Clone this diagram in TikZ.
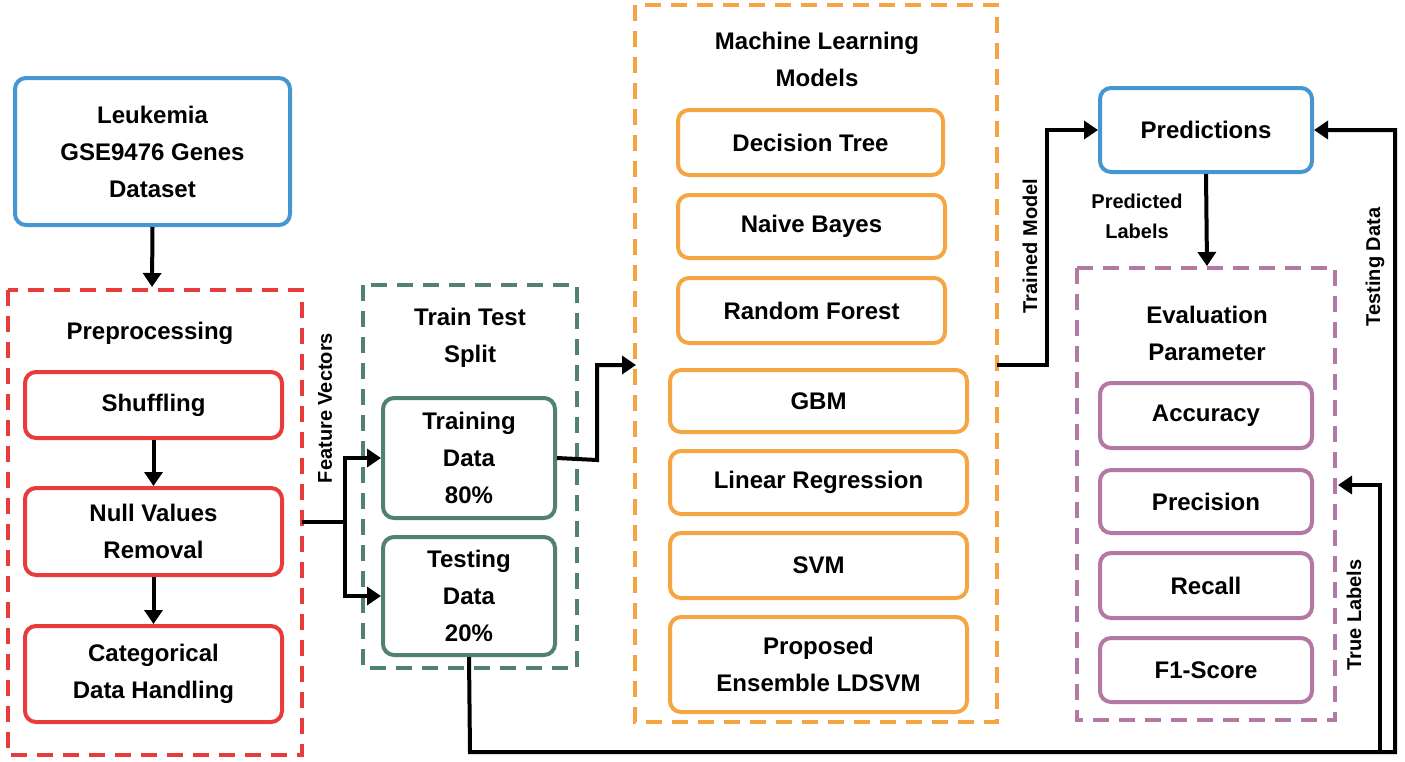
\documentclass[tikz,border=0pt]{standalone}
\usepackage{fontspec}
\setmainfont{Liberation Sans}
\usetikzlibrary{arrows.meta}
\definecolor{cblue}{RGB}{70,150,210}
\definecolor{cred}{RGB}{232,60,60}
\definecolor{cgreen}{RGB}{80,130,110}
\definecolor{corange}{RGB}{245,165,65}
\definecolor{cpurple}{RGB}{180,120,165}
\tikzset{
 box/.style={draw=#1,line width=4pt,rounded corners=11pt,fill=white,align=center,font=\fontsize{24}{37}\selectfont\bfseries,inner sep=0pt},
 grp/.style={draw=#1,line width=4pt,dash pattern=on 16pt off 10pt},
 ttl/.style={font=\fontsize{24}{37}\selectfont\bfseries,align=center},
 lbl/.style={font=\fontsize{20}{30}\selectfont\bfseries,align=center},
 arr/.style={line width=4pt,-{Triangle[length=14pt,width=18pt]}},
 ln/.style={line width=4pt}
}
\newcommand{\bx}[6]{\node[box=#1,minimum width={#4-#2},minimum height={#5-#3}] (#6) at ({(#2+#4)/2},{(#3+#5)/2})}
\begin{document}
\begin{tikzpicture}[x=1pt,y=-1pt]
\useasboundingbox (0,0) rectangle (1405,761);
% groups
\draw[grp=cred] (8,290) rectangle (302,755);
\draw[grp=cgreen] (363,285) rectangle (577,668);
\draw[grp=corange] (635,5) rectangle (997,722);
\draw[grp=cpurple] (1077,268) rectangle (1335,720);
\node[ttl] (tpre) at (150,333) {Preprocessing};
\node[ttl] (tsplit) at (470,338) {Train Test\\Split};
\node[ttl] (tml) at (817,59) {Machine Learning\\Models};
\node[ttl] (teval) at (1207,333) {Evaluation\\Parameter};
% nodes
\bx{cblue}{15}{78}{290}{225}{leuk} {Leukemia\\GSE9476 Genes\\Dataset};
\bx{cred}{25}{372}{282}{438}{shuf} {Shuffling};
\bx{cred}{25}{488}{282}{575}{null} {Null Values\\Removal};
\bx{cred}{25}{626}{282}{722}{cat} {Categorical\\Data Handling};
\bx{cgreen}{383}{398}{555}{518}{train} {Training\\Data\\80\%};
\bx{cgreen}{383}{537}{555}{655}{test} {Testing\\Data\\20\%};
\bx{corange}{678}{110}{943}{175}{dt} {Decision Tree};
\bx{corange}{678}{195}{945}{258}{nb} {Naive Bayes};
\bx{corange}{678}{278}{945}{343}{rf} {Random Forest};
\bx{corange}{670}{370}{967}{432}{gbm} {GBM};
\bx{corange}{670}{451}{967}{514}{lr} {Linear Regression};
\bx{corange}{670}{533}{967}{598}{svm} {SVM};
\bx{corange}{670}{617}{967}{712}{prop} {Proposed\\Ensemble LDSVM};
\bx{cblue}{1100}{88}{1312}{172}{pred} {Predictions};
\bx{cpurple}{1100}{383}{1312}{448}{acc} {Accuracy};
\bx{cpurple}{1100}{470}{1312}{533}{prec} {Precision};
\bx{cpurple}{1100}{553}{1312}{618}{rec} {Recall};
\bx{cpurple}{1100}{638}{1312}{702}{f1} {F1-Score};
% coordinates
\coordinate (preR) at (302,522);
\coordinate (fv) at (345,522);
\coordinate (mlL) at (636,365);
\coordinate (mlR) at (997,365);
\coordinate (evR) at (1338,485);
% arrows
\draw[arr] (leuk.south) -- (152,287);
\draw[arr] (shuf) -- (null);
\draw[arr] (null) -- (cat);
\draw[ln] (preR) -- (fv);
\draw[arr] (fv) |- (train.west);
\draw[arr] (fv) |- (test.west);
\draw[arr] (train.east) -- (597,460) |- (mlL);
\draw[arr] (mlR) -- (1047,365) |- (pred.west);
\draw[arr] (pred.south) -- (1207,266);
\draw[arr] (test.south) -- (470,752) -- (1395,752) |- (pred.east);
\draw[arr] (1380,752) |- (evR);
% labels
\node[lbl,rotate=90] (lfv) at (325,408) {Feature Vectors};
\node[lbl,rotate=90] (ltm) at (1030,246) {Trained Model};
\node[lbl] (lpl) at (1137,216) {Predicted\\Labels};
\node[lbl,rotate=90] (ltd) at (1375,267) {Testing Data};
\node[lbl,rotate=90] (ltl) at (1354,615) {True Labels};
\end{tikzpicture}
\end{document}
